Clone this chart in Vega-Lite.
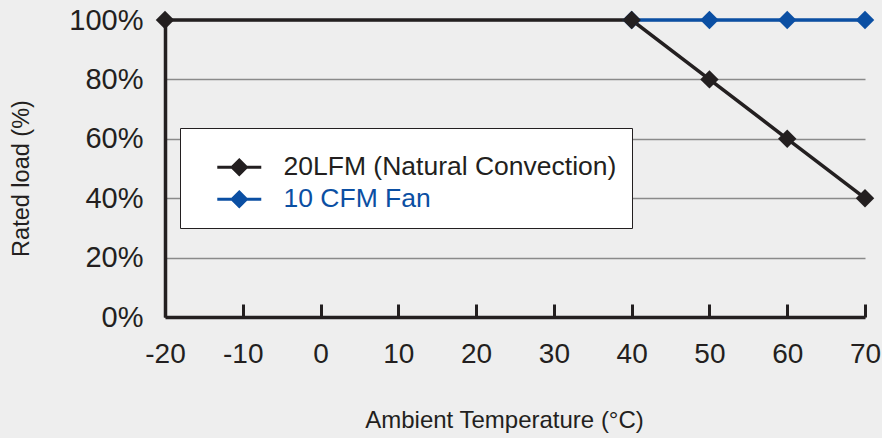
{
  "$schema": "https://vega.github.io/schema/vega-lite/v6.json",
  "width": 700,
  "height": 297,
  "autosize": {"type": "none"},
  "padding": {"left": 165, "top": 20, "right": 17, "bottom": 121},
  "background": "#eeeeee",
  "config": {
    "font": "Liberation Sans",
    "view": {"stroke": null},
    "axis": {"labelColor": "#231f20", "titleColor": "#231f20", "titleFontWeight": "normal"}
  },
  "data": {
    "values": [
      {"temp": 40, "load": 100, "series": "10 CFM Fan"},
      {"temp": 50, "load": 100, "series": "10 CFM Fan"},
      {"temp": 60, "load": 100, "series": "10 CFM Fan"},
      {"temp": 70, "load": 100, "series": "10 CFM Fan"},
      {"temp": -20, "load": 100, "series": "20LFM (Natural Convection)"},
      {"temp": 40, "load": 100, "series": "20LFM (Natural Convection)"},
      {"temp": 50, "load": 80, "series": "20LFM (Natural Convection)"},
      {"temp": 60, "load": 60, "series": "20LFM (Natural Convection)"},
      {"temp": 70, "load": 40, "series": "20LFM (Natural Convection)"}
    ]
  },
  "encoding": {
    "x": {
      "field": "temp", "type": "quantitative",
      "scale": {"domain": [-20, 70], "nice": false, "zero": false},
      "axis": {
        "values": [-20, -10, 0, 10, 20, 30, 40, 50, 60, 70],
        "labelExpr": "'' + datum.value",
        "labelFlush": false,
        "title": "Ambient Temperature (°C)",
        "titleFontSize": 24, "titlePadding": 40, "titleX": 339,
        "labelFontSize": 28, "labelPadding": 36,
        "grid": false, "domainColor": "#231f20", "domainWidth": 3.5,
        "ticks": true,
        "tickColor": "#231f20", "tickWidth": 3, "tickSize": -13
      }
    },
    "y": {
      "field": "load", "type": "quantitative",
      "scale": {"domain": [0, 100], "nice": false},
      "axis": {
        "values": [0, 20, 40, 60, 80, 100],
        "labelExpr": "datum.value + '%'",
        "title": "Rated load (%)",
        "titleFontSize": 23.5, "titlePadding": 35, "titleY": 158,
        "labelFontSize": 29, "labelPadding": 22,
        "ticks": false,
        "gridColor": "#8a8a8a", "gridWidth": 1.3,
        "domainColor": "#231f20", "domainWidth": 3.5
      }
    },
    "color": {
      "field": "series", "type": "nominal",
      "scale": {"domain": ["20LFM (Natural Convection)", "10 CFM Fan"], "range": ["#231f20", "#0b4fa3"]},
      "legend": {
        "title": " ",
        "titleFontSize": 1,
        "titlePadding": 10,
        "orient": "none",
        "legendX": 15,
        "legendY": 108,
        "fillColor": "#ffffff",
        "strokeColor": "#231f20",
        "padding": 15,
        "labelFontSize": 26.5,
        "labelLimit": 0,
        "symbolType": "M0.82,0H4.82M2.82,-0.65L3.47,0L2.82,0.65L2.17,0Z",
        "symbolSize": 484,
        "symbolStrokeWidth": 3,
        "labelOffset": 62,
        "rowPadding": 5,
        "encode": {
          "symbols": {"update": {"fill": {"scale": "color", "field": "value"}, "stroke": {"scale": "color", "field": "value"}}},
          "labels": {"update": {"fill": {"scale": "color", "field": "value"}}}
        }
      }
    }
  },
  "layer": [
    {"mark": {"type": "line", "strokeWidth": 3.5}},
    {"mark": {"type": "point", "shape": "diamond", "filled": true, "size": 340, "opacity": 1}}
  ]
}
